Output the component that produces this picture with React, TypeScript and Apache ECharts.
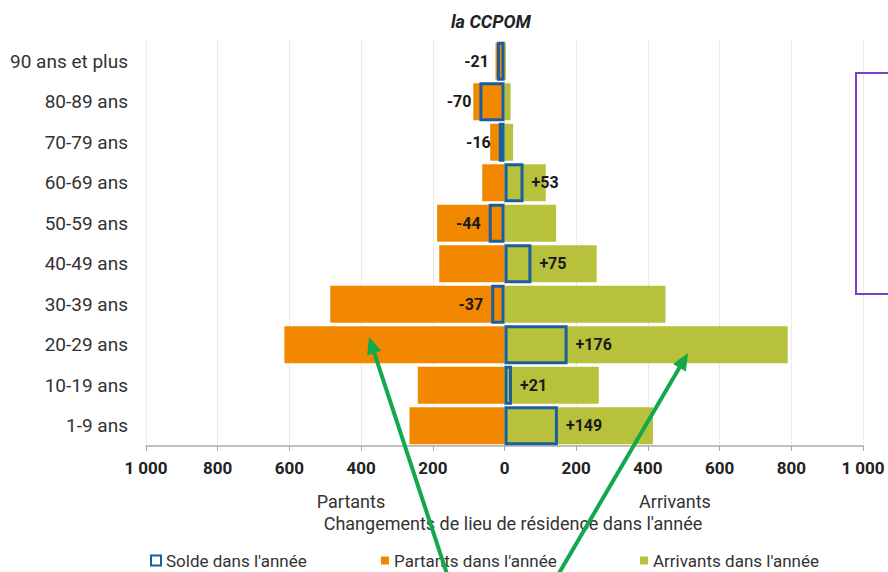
import React, { useEffect, useRef } from "react";
import * as echarts from "echarts";

// Categories listed bottom to top (category axis order)
const categories = [
  "1-9 ans",
  "10-19 ans",
  "20-29 ans",
  "30-39 ans",
  "40-49 ans",
  "50-59 ans",
  "60-69 ans",
  "70-79 ans",
  "80-89 ans",
  "90 ans et plus",
];
const partants = [265, 242, 614, 486, 182, 188, 62, 40, 87, 25];
const arrivants = [414, 263, 790, 449, 257, 144, 115, 24, 17, 4];
const solde = [149, 21, 176, -37, 75, -44, 53, -16, -70, -21];
const xTicks = { min: -1000, max: 1000, interval: 200 };

const ORANGE = "#F18800";
const GREEN = "#B7C13B";
const BLUE = "#1B5E9F";
const ARROW = "#14A84C";
const FONT = "Roboto, 'Noto Sans', sans-serif";

function fmtThousands(v: number): string {
  const a = Math.abs(Math.round(v));
  return String(a).replace(/\B(?=(\d{3})+(?!\d))/g, " ");
}

function arrowEls(x0: number, y0: number, x1: number, y1: number) {
  const dx = x1 - x0;
  const dy = y1 - y0;
  const len = Math.sqrt(dx * dx + dy * dy);
  const ux = dx / len;
  const uy = dy / len;
  const head = 17;
  const half = 7.5;
  const bx = x1 - ux * head;
  const by = y1 - uy * head;
  const px = -uy * half;
  const py = ux * half;
  return [
    {
      type: "line",
      z: 100,
      shape: { x1: x0, y1: y0, x2: bx + ux * 2, y2: by + uy * 2 },
      style: { stroke: ARROW, lineWidth: 4 },
    },
    {
      type: "polygon",
      z: 100,
      shape: {
        points: [
          [x1, y1],
          [bx + px, by + py],
          [bx - px, by - py],
        ],
      },
      style: { fill: ARROW },
    },
  ];
}

export default function App() {
  const ref = useRef<HTMLDivElement>(null);
  useEffect(() => {
    if (!ref.current) return;
    const chart = echarts.init(ref.current, undefined, { renderer: "svg" });
    const legendText = { fontSize: 17, color: "#333", fontFamily: FONT };
    chart.setOption({
      animation: false,
      textStyle: { fontFamily: FONT },
      title: {
        text: "la CCPOM",
        left: 446,
        top: 7,
        textStyle: {
          fontSize: 18,
          fontWeight: "bold",
          fontStyle: "italic",
          color: "#222",
          fontFamily: FONT,
        },
      },
      grid: { left: 146, right: 25, top: 41, bottom: 126, containLabel: false },
      legend: [
        {
          left: 145,
          top: 547,
          itemWidth: 10,
          itemHeight: 10,
          itemGap: 4,
          icon: "rect",
          textStyle: legendText,
          data: ["Solde dans l'année"],
        },
        {
          left: 376,
          top: 547,
          itemWidth: 8,
          itemHeight: 8,
          icon: "rect",
          textStyle: legendText,
          data: ["Partants dans l'année"],
        },
        {
          left: 635,
          top: 547,
          itemWidth: 8,
          itemHeight: 8,
          icon: "rect",
          textStyle: legendText,
          data: ["Arrivants dans l'année"],
        },
      ],
      xAxis: {
        type: "value",
        min: xTicks.min,
        max: xTicks.max,
        interval: xTicks.interval,
        axisLine: { show: true, lineStyle: { color: "#aaa", width: 1.5 } },
        axisTick: { show: true, length: 5, lineStyle: { color: "#aaa" } },
        axisLabel: {
          margin: 13,
          fontSize: 17,
          fontWeight: "bold",
          color: "#222",
          formatter: (v: number) => fmtThousands(v),
        },
        splitLine: {
          show: true,
          lineStyle: { color: "#d6d6d6", type: "dotted", width: 1 },
        },
      },
      yAxis: [
        {
          type: "category",
          data: categories,
          axisLine: { show: false },
          axisTick: { show: false },
          axisLabel: { margin: 18, fontSize: 19, color: "#333" },
          splitLine: { show: false },
        },
        {
          type: "category",
          data: categories,
          show: false,
        },
      ],
      series: [
        {
          name: "Partants dans l'année",
          type: "bar",
          stack: "flux",
          yAxisIndex: 0,
          barWidth: 37,
          itemStyle: { color: ORANGE },
          data: partants.map((v) => -v),
        },
        {
          name: "Arrivants dans l'année",
          type: "bar",
          stack: "flux",
          yAxisIndex: 0,
          barWidth: 37,
          itemStyle: { color: GREEN },
          data: arrivants,
        },
        {
          name: "Solde dans l'année",
          type: "bar",
          yAxisIndex: 1,
          barWidth: 39,
          z: 5,
          itemStyle: {
            color: "rgba(255,255,255,0)",
            borderColor: BLUE,
            borderWidth: 3,
          },
          label: {
            show: true,
            fontSize: 16,
            fontWeight: "bold",
            color: "#1a1a1a",
            distance: 8,
            formatter: (p: any) => (p.value > 0 ? "+" + p.value : String(p.value)),
          },
          data: solde.map((v) => ({
            value: v,
            label: { position: v >= 0 ? "right" : "left" },
          })),
        },
      ],
      graphic: [
        {
          type: "text",
          x: 351,
          y: 501,
          style: {
            text: "Partants",
            fontSize: 18,
            fill: "#333",
            fontFamily: FONT,
            textAlign: "center",
            textVerticalAlign: "middle",
          },
        },
        {
          type: "text",
          x: 675,
          y: 501,
          style: {
            text: "Arrivants",
            fontSize: 18,
            fill: "#333",
            fontFamily: FONT,
            textAlign: "center",
            textVerticalAlign: "middle",
          },
        },
        {
          type: "text",
          x: 513,
          y: 523,
          style: {
            text: "Changements de lieu de résidence dans l'année",
            fontSize: 18,
            fill: "#333",
            fontFamily: FONT,
            textAlign: "center",
            textVerticalAlign: "middle",
          },
        },
        {
          type: "rect",
          z: 100,
          shape: { x: 856, y: 73, width: 60, height: 221 },
          style: { fill: "none", stroke: "#7B3FC4", lineWidth: 2 },
        },
        ...arrowEls(449, 580, 369, 337),
        ...arrowEls(555, 580, 688, 353),
      ],
    });
    return () => chart.dispose();
  }, []);
  return (
    <div
      ref={ref}
      style={{ position: "fixed", left: 0, top: 0, width: 888, height: 572, background: "#fff" }}
    />
  );
}
